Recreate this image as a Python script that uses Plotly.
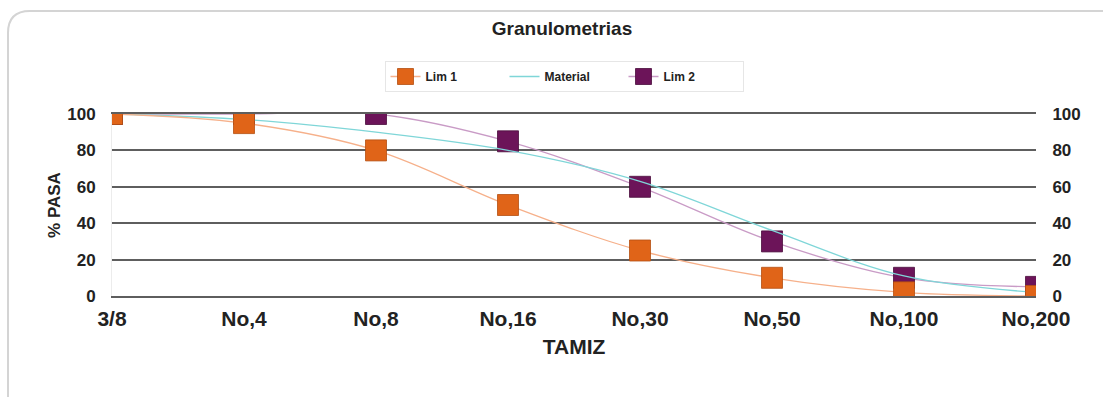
import plotly.graph_objects as go

categories = ["3/8", "No,4", "No,8", "No,16", "No,30", "No,50", "No,100", "No,200"]
lim1 = [100, 95, 80, 50, 25, 10, 2, 0]
material = [100, 97, 90, 80, 63, 36, 11, 2]
lim2 = [100, 100, 100, 85, 60, 30, 10, 5]
y_ticks = [0, 20, 40, 60, 80, 100]

xpos = list(range(len(categories)))

W, H = 1103, 397
L, R, T, B = 112, 1036, 114, 296

fig = go.Figure()
fig.add_trace(go.Scatter(
    x=xpos, y=lim2, name="<b>Lim 2</b>", mode="lines+markers", legendrank=3,
    line=dict(color="#C99BC6", width=1.3, shape="spline", smoothing=1.0),
    marker=dict(symbol="square", size=21, color="#6C1459",
                line=dict(color="#4a0d3c", width=0.8)),
))
fig.add_trace(go.Scatter(
    x=xpos, y=material, name="<b>Material</b>", mode="lines", legendrank=2,
    line=dict(color="#7FD6D8", width=1.3, shape="spline", smoothing=1.0),
))
fig.add_trace(go.Scatter(
    x=xpos, y=lim1, name="<b>Lim 1</b>", mode="lines+markers", legendrank=1,
    line=dict(color="#F6B08A", width=1.3, shape="spline", smoothing=1.0),
    marker=dict(symbol="square", size=21, color="#E06418",
                line=dict(color="#b44f12", width=0.8)),
))
# invisible trace to host the right axis
fig.add_trace(go.Scatter(x=[0], y=[0], yaxis="y2", showlegend=False,
                         mode="markers", marker=dict(opacity=0), hoverinfo="skip"))

def px_x(p):
    return (p - L) / (R - L)

def px_y(p):
    return (B - p) / (B - T)

# rounded outer frame (decoration)
r = 22
x0, y0, x1, y1 = 8, 11, 1120, 420
path = (f"M {px_x(x0)},{px_y(y1)} L {px_x(x0)},{px_y(y0 + r)} "
        f"Q {px_x(x0)},{px_y(y0)} {px_x(x0 + r)},{px_y(y0)} L {px_x(x1)},{px_y(y0)}")
fig.add_shape(type="path", path=path, xref="paper", yref="paper",
              line=dict(color="#D4D4D4", width=2), layer="below")

font_main = "Liberation Sans, Arial, sans-serif"
grid_col = "#5E5E5E"

fig.update_layout(
    width=W, height=H,
    margin=dict(l=L, r=W - R, t=T, b=H - B),
    paper_bgcolor="white", plot_bgcolor="white",
    font=dict(family=font_main, color="#111"),
    title=dict(text="<b>Granulometrias</b>", x=px_x(562), xanchor="center",
               xref="paper", y=1 - 28 / H, yanchor="middle",
               font=dict(size=19, color="#222")),
    showlegend=True,
    legend=dict(orientation="h", x=px_x(564), xanchor="center",
                y=px_y(61), yanchor="top",
                bordercolor="#E6E6E6", borderwidth=1, bgcolor="white",
                font=dict(size=12, color="#222", family=font_main),
                itemwidth=30, tracegroupgap=0,
                traceorder="normal", entrywidth=74),
    xaxis=dict(
        range=[0, len(categories) - 1], tickmode="array", tickvals=xpos,
        ticktext=[f"<b>{c}</b>" for c in categories],
        showgrid=False, zeroline=False,
        showline=True, mirror=True, linecolor=grid_col, linewidth=2,
        ticks="outside", ticklen=3, tickcolor="rgba(0,0,0,0)",
        tickfont=dict(size=21, color="#222"),
        title=dict(text="<b>TAMIZ</b>", font=dict(size=21, color="#222"), standoff=10),
    ),
    yaxis=dict(
        range=[0, 100], tickvals=y_ticks,
        ticktext=[f"<b>{v}</b>" for v in y_ticks],
        showgrid=True, gridcolor=grid_col, gridwidth=2,
        zeroline=False, showline=True, linecolor="#ECECEC", linewidth=1,
        ticks="outside", ticklen=12, tickcolor="rgba(0,0,0,0)",
        tickfont=dict(size=17, color="#222"),
        title=dict(text="<b>% PASA</b>", font=dict(size=17, color="#222"), standoff=2),
    ),
    yaxis2=dict(
        range=[0, 100], tickvals=y_ticks,
        ticktext=[f"<b>{v}</b>" for v in y_ticks],
        overlaying="y", side="right", showgrid=False, zeroline=False,
        ticks="outside", ticklen=12, tickcolor="rgba(0,0,0,0)",
        tickfont=dict(size=17, color="#222"),
    ),
)

fig.write_html("out.html")
